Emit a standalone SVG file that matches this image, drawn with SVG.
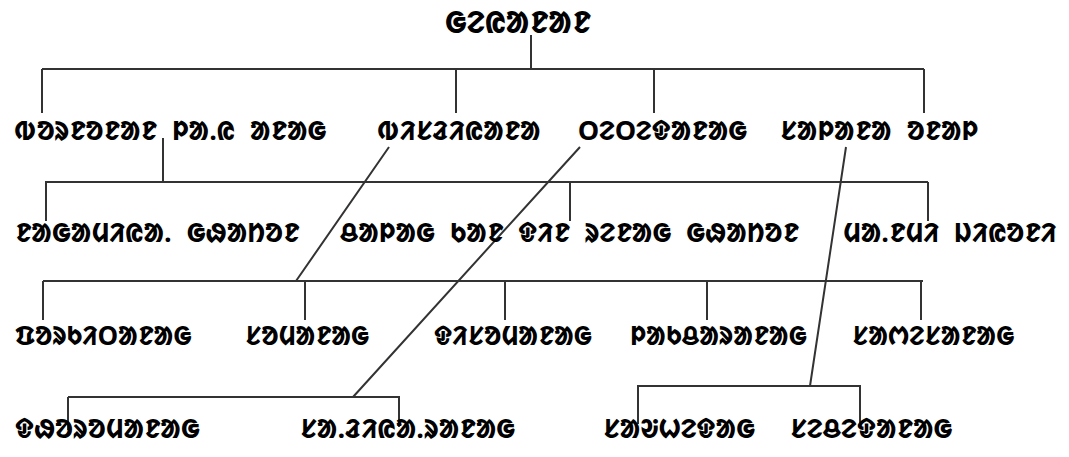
<svg xmlns="http://www.w3.org/2000/svg" width="1069" height="457" viewBox="0 0 1069 457">
<style>
.t{font-family:"Noto Sans","Noto Sans Ol Chiki",sans-serif;font-size:27px;font-weight:bold;fill:#000;word-spacing:8px}
.s{font-size:26px}
.h{font-size:31px}
.c{stroke:#333;stroke-width:2;fill:none}
</style>
<rect width="1069" height="457" fill="#fff"/>
<g id="connectors" class="c">
<path d="M531,35V69M42,69H924M42,69V113M456,69V113M654,69V113M924,69V113"/>
<path d="M163,138V182M45,182H928M46,182V221M570,182V221M928,182V221"/>
<path d="M389,147L296,281M43,281H923M43,281V320M305,281V320M505,281V320M707,281V320M921,281V320"/>
<path d="M580,147L353,397M68,397H400M68,397V430M399,397V427"/>
<path d="M846,147L810,386M637,386H861M638,386V424M860,386V428"/>
</g>
<g id="root"><text class="t h" x="445" y="33">ᱜᱮᱭᱟᱱᱟᱱ</text></g>
<g id="n1a"><text class="t" x="15" y="140">ᱵᱚᱨᱱᱚᱱᱟᱱ ᱞᱟᱹᱭ ᱟᱱᱟᱜ</text></g>
<g id="n1b"><text class="t" x="378" y="140">ᱵᱤᱥᱲᱤᱭᱟᱱᱟ</text></g>
<g id="n1c"><text class="t" x="578" y="140">ᱛᱮᱛᱮᱫᱟᱱᱟᱜ</text></g>
<g id="n1d"><text class="t" x="780" y="140">ᱥᱟᱞᱟᱱᱟ ᱚᱱᱟᱞ</text></g>
<g id="n2a"><text class="t" x="15" y="242">ᱱᱟᱜᱟᱢᱤᱭᱟᱹ ᱜᱷᱟᱴᱚᱱ</text></g>
<g id="n2b"><text class="t" x="340" y="242">ᱪᱟᱞᱟᱜ ᱠᱟᱱ ᱫᱤᱱ ᱨᱮᱱᱟᱜ ᱜᱷᱟᱴᱚᱱ</text></g>
<g id="n2c"><text class="t" x="843" y="242">ᱢᱟᱹᱱᱢᱤ ᱡᱤᱭᱚᱱᱤ</text></g>
<g id="n3a"><text class="t s" x="15" y="345">ᱯᱚᱨᱠᱤᱛᱟᱱᱟᱜ</text></g>
<g id="n3b"><text class="t s" x="245" y="345">ᱥᱚᱢᱟᱱᱟᱜ</text></g>
<g id="n3c"><text class="t s" x="434" y="345">ᱫᱤᱥᱚᱢᱟᱱᱟᱜ</text></g>
<g id="n3d"><text class="t s" x="630" y="345">ᱞᱟᱠᱪᱟᱨᱟᱱᱟᱜ</text></g>
<g id="n3e"><text class="t s" x="852" y="345">ᱥᱟᱬᱮᱥᱟᱱᱟᱜ</text></g>
<g id="n4a"><text class="t" x="15" y="438">ᱫᱷᱚᱨᱚᱢᱟᱱᱟᱜ</text></g>
<g id="n4b"><text class="t" x="300" y="438">ᱥᱟᱹᱲᱤᱭᱟᱹᱨᱟᱱᱟᱜ</text></g>
<g id="n4c"><text class="t" x="603" y="438">ᱥᱟᱶᱦᱮᱫᱟᱜ</text></g>
<g id="n4d"><text class="t" x="790" y="438">ᱥᱮᱪᱮᱫᱟᱱᱟᱜ</text></g>
</svg>
